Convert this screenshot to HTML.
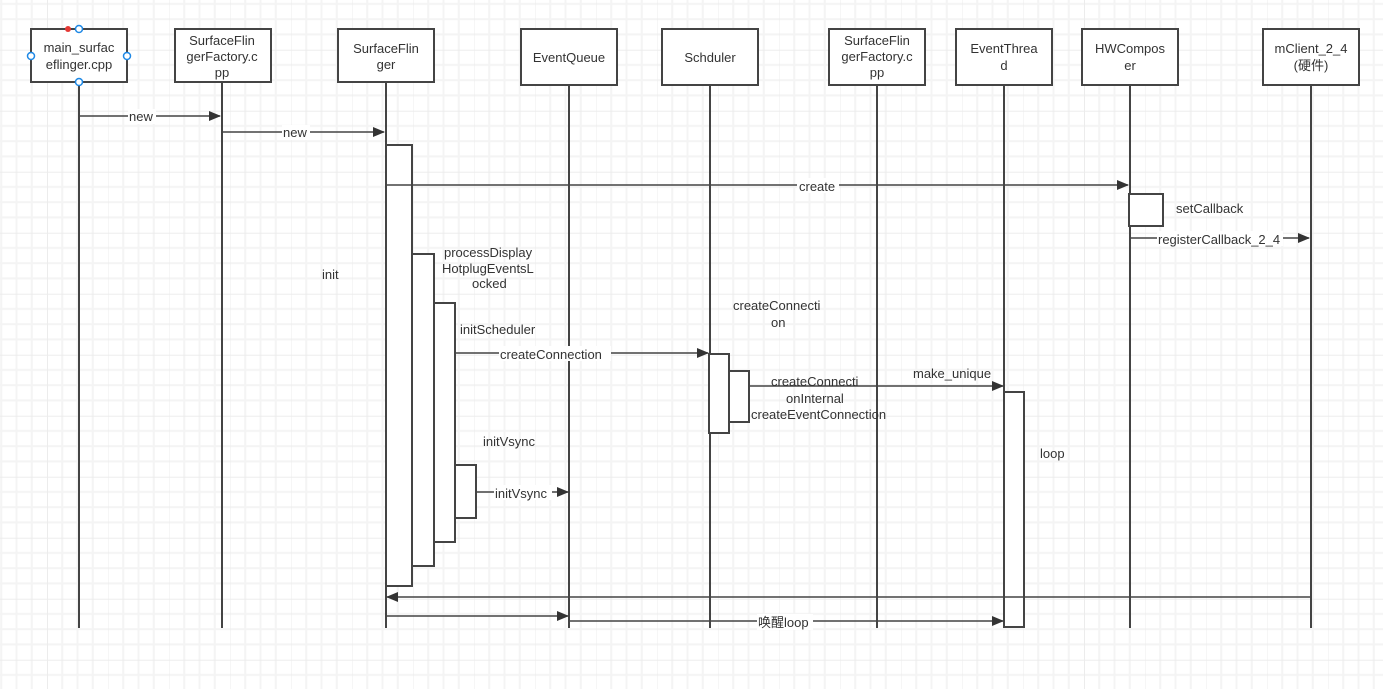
<!DOCTYPE html>
<html><head><meta charset="utf-8"><style>
html,body{margin:0;padding:0;background:#fff;}
svg{display:block;font-family:"Liberation Sans","Noto Sans CJK SC",sans-serif;}
</style></head><body>
<svg width="1383" height="689" viewBox="0 0 1383 689" xmlns="http://www.w3.org/2000/svg">
<defs>
<pattern id="g" width="61" height="61" patternUnits="userSpaceOnUse" x="47" y="49.7">
<g stroke="#f4f4f4" stroke-width="2" fill="none">
<path d="M15.25 0V61M30.5 0V61M45.75 0V61M0 15.25H61M0 30.5H61M0 45.75H61"/>
</g>
<path d="M0 0V61M0 0H61" stroke="#ececec" stroke-width="2" fill="none"/>
</pattern>
<marker id="a" markerWidth="12" markerHeight="10" refX="11" refY="5" orient="auto" markerUnits="userSpaceOnUse">
<path d="M0 0L12 5L0 10z" fill="#333"/>
</marker>
</defs>
<rect width="1383" height="689" fill="url(#g)"/>
<g stroke="#444" stroke-width="2" fill="none">
<line x1="79" y1="83" x2="79" y2="628"/>
<line x1="222" y1="83" x2="222" y2="628"/>
<line x1="386" y1="83" x2="386" y2="628"/>
<line x1="569" y1="83" x2="569" y2="628"/>
<line x1="710" y1="83" x2="710" y2="628"/>
<line x1="877" y1="83" x2="877" y2="628"/>
<line x1="1004" y1="83" x2="1004" y2="628"/>
<line x1="1130" y1="83" x2="1130" y2="628"/>
<line x1="1311" y1="83" x2="1311" y2="628"/>
</g>
<g stroke="#444" stroke-width="2" fill="#fff">
<rect x="31" y="29" width="96" height="53"/>
<rect x="175" y="29" width="96" height="53"/>
<rect x="338" y="29" width="96" height="53"/>
<rect x="521" y="29" width="96" height="56"/>
<rect x="662" y="29" width="96" height="56"/>
<rect x="829" y="29" width="96" height="56"/>
<rect x="956" y="29" width="96" height="56"/>
<rect x="1082" y="29" width="96" height="56"/>
<rect x="1263" y="29" width="96" height="56"/>
<rect x="386" y="145" width="26" height="441"/>
<rect x="412" y="254" width="22" height="312"/>
<rect x="434" y="303" width="21" height="239"/>
<rect x="455" y="465" width="21" height="53"/>
<rect x="709" y="354" width="20" height="79"/>
<rect x="729" y="371" width="20" height="51"/>
<rect x="1004" y="392" width="20" height="235"/>
<rect x="1129" y="194" width="34" height="32"/>
</g>
<g fill="#fff" stroke="#1e88e5" stroke-width="1.5">
<circle cx="79" cy="29" r="3.5"/><circle cx="31" cy="56" r="3.5"/><circle cx="127" cy="56" r="3.5"/><circle cx="79" cy="82" r="3.5"/>
</g>
<circle cx="68" cy="29" r="3" fill="#e53935"/>
<g stroke="#444" stroke-width="1.5" fill="none" marker-end="url(#a)">
<line x1="79" y1="116" x2="220" y2="116"/>
<line x1="222" y1="132" x2="384" y2="132"/>
<line x1="386" y1="185" x2="1128" y2="185"/>
<line x1="1130" y1="238" x2="1309" y2="238"/>
<line x1="455" y1="353" x2="708" y2="353"/>
<line x1="749" y1="386" x2="1003" y2="386"/>
<line x1="476" y1="492" x2="568" y2="492"/>
<line x1="1311" y1="597" x2="387" y2="597"/>
<line x1="386" y1="616" x2="568" y2="616"/>
<line x1="569" y1="621" x2="1003" y2="621"/>
</g>
<g font-size="13" fill="#333" text-anchor="middle">
<text x="79" y="52">main_surfac</text><text x="79" y="69">eflinger.cpp</text>
<text x="222" y="45">SurfaceFlin</text><text x="222" y="61">gerFactory.c</text><text x="222" y="77">pp</text>
<text x="386" y="53">SurfaceFlin</text><text x="386" y="69">ger</text>
<text x="569" y="62">EventQueue</text>
<text x="710" y="62">Schduler</text>
<text x="877" y="45">SurfaceFlin</text><text x="877" y="61">gerFactory.c</text><text x="877" y="77">pp</text>
<text x="1004" y="53">EventThrea</text><text x="1004" y="70">d</text>
<text x="1130" y="53">HWCompos</text><text x="1130" y="70">er</text>
<text x="1311" y="53">mClient_2_4</text><text x="1311" y="70">(硬件)</text>
</g>
<g font-size="13" fill="#333">
<rect x="128" y="109" width="28" height="15" fill="#fff"/><text x="129" y="121">new</text>
<rect x="282" y="125" width="28" height="15" fill="#fff"/><text x="283" y="137">new</text>
<rect x="797" y="178" width="42" height="15" fill="#fff"/><text x="799" y="191">create</text>
<text x="1176" y="213">setCallback</text>
<rect x="1157" y="231" width="126" height="15" fill="#fff"/><text x="1158" y="244">registerCallback_2_4</text>
<text x="322" y="279">init</text>
<text x="444" y="257">processDisplay</text>
<text x="442" y="273">HotplugEventsL</text>
<text x="472" y="288">ocked</text>
<text x="460" y="334">initScheduler</text>
<text x="733" y="310">createConnecti</text>
<text x="771" y="327">on</text>
<rect x="499" y="346" width="112" height="15" fill="#fff"/><text x="500" y="359">createConnection</text>
<text x="913" y="378">make_unique</text>
<text x="771" y="386">createConnecti</text>
<text x="786" y="403">onInternal</text>
<text x="751" y="419">createEventConnection</text>
<text x="1040" y="458">loop</text>
<text x="483" y="446">initVsync</text>
<rect x="494" y="485" width="58" height="15" fill="#fff"/><text x="495" y="498">initVsync</text>
<rect x="757" y="614" width="56" height="16" fill="#fff"/><text x="758" y="627">唤醒loop</text>
</g>
</svg>
</body></html>
